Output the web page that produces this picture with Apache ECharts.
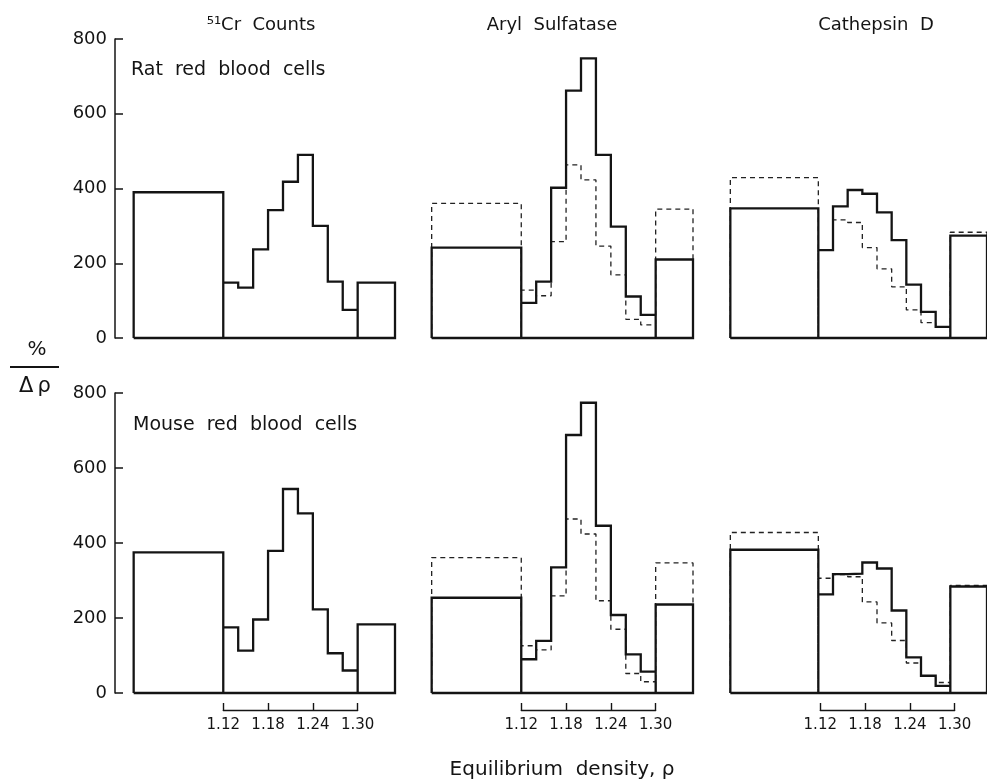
<!DOCTYPE html>
<html>
<head>
<meta charset="utf-8">
<script src="https://cdn.jsdelivr.net/npm/echarts@6/dist/echarts.min.js"></script>
<style>
  html, body { margin: 0; padding: 0; background: #fff; }
  #chart { width: 987px; height: 784px; }
</style>
</head>
<body>
<div id="chart"></div>
<script>
// bin edges (density): one wide box, 9 fractions of 0.02, one box above 1.30
const edges = [1.00, 1.12, 1.14, 1.16, 1.18, 1.20, 1.22, 1.24, 1.26, 1.28, 1.30, 1.35];
const tickLabels = ['1.12', '1.18', '1.24', '1.30'];
const panelTitles = ['\u2075\u00b9Cr  Counts', 'Aryl  Sulfatase', 'Cathepsin  D'];
const rowLabels = ['Rat  red  blood  cells', 'Mouse  red  blood  cells'];

// %/Δρ values
const ratCr = [390, 148, 135, 237, 342, 418, 490, 300, 151, 75, 148];
const ratAryl = [242, 94, 151, 402, 662, 748, 490, 298, 111, 62, 210];
const ratArylDashed = [360, 128, 113, 258, 463, 423, 246, 169, 50, 35, 345];
const ratCath = [347, 235, 352, 396, 386, 336, 262, 143, 70, 30, 274];
const ratCathDashed = [429, 235, 316, 309, 242, 185, 137, 75, 41, 30, 283];

const mouseCr = [375, 175, 113, 196, 379, 544, 479, 223, 106, 60, 183];
const mouseAryl = [254, 90, 139, 335, 688, 774, 446, 208, 103, 57, 236];
const mouseArylDashed = [361, 126, 115, 259, 464, 424, 246, 170, 52, 30, 347];
const mouseCath = [382, 263, 317, 318, 348, 332, 220, 95, 46, 19, 284];
const mouseCathDashed = [428, 306, 316, 310, 243, 187, 140, 80, 46, 28, 287];

const FONT = 'DejaVu Sans';
const INK = '#141414';

// outline of the histogram: closed box, steps, closed box, baseline
function outline(values) {
    const n = values.length;
    const pts = [[edges[0], 0]];
    for (let i = 0; i < n; i++) {
        pts.push([edges[i], values[i]], [edges[i + 1], values[i]]);
        if (i === 0 || i === n - 2) pts.push([edges[i + 1], 0]);
    }
    pts.push([edges[n], 0], [edges[0], 0]);
    return pts;
}

const panelLeft = [115, 413, 712];
const panelWidth = 280;
const xMin = 0.975, xMax = 1.35;
const rowTop = [39, 393];
const rowHeight = [299, 300];
const pxPerUnit = panelWidth / (xMax - xMin);

const grid = [], xAxis = [], yAxis = [], series = [];

const rows = [
    [[ratCr], [ratAryl, ratArylDashed], [ratCath, ratCathDashed]],
    [[mouseCr], [mouseAryl, mouseArylDashed], [mouseCath, mouseCathDashed]]
];

rows.forEach((row, r) => {
    row.forEach((sets, p) => {
        const gi = grid.length;
        grid.push({ left: panelLeft[p], width: panelWidth, top: rowTop[r], height: rowHeight[r] });
        xAxis.push({ gridIndex: gi, type: 'value', min: xMin, max: xMax, show: false });
        yAxis.push({
            gridIndex: gi, type: 'value', min: 0, max: 800, interval: 200,
            show: p === 0,
            axisLine: { show: true, lineStyle: { color: INK, width: 1.5 } },
            axisTick: { show: true, inside: true, length: 8, lineStyle: { color: INK, width: 1.5 } },
            axisLabel: { color: INK, fontSize: 18, fontFamily: FONT, margin: 8 },
            splitLine: { show: false }
        });
        // dashed first so the solid line sits on top
        if (sets[1]) {
            series.push({
                type: 'line', xAxisIndex: gi, yAxisIndex: gi, data: outline(sets[1]),
                showSymbol: false, silent: true, z: 2, clip: false,
                lineStyle: { color: '#222', width: 1.3, type: [5, 4] }
            });
        }
        series.push({
            type: 'line', xAxisIndex: gi, yAxisIndex: gi, data: outline(sets[0]),
            showSymbol: false, silent: true, z: 3, clip: false,
            lineStyle: { color: INK, width: 2.3, join: 'miter' }
        });
    });
});

// density bracket under the bottom row
panelLeft.forEach(left => {
    const gi = grid.length;
    grid.push({
        left: left + (1.12 - xMin) * pxPerUnit, width: 0.18 * pxPerUnit,
        top: 700, height: 10
    });
    xAxis.push({
        gridIndex: gi, type: 'category', data: tickLabels, boundaryGap: false,
        axisLine: { lineStyle: { color: INK, width: 1.4 } },
        axisTick: { inside: true, length: 7, lineStyle: { color: INK, width: 1.4 } },
        axisLabel: { color: INK, fontSize: 15, fontFamily: FONT, margin: 8 }
    });
    yAxis.push({ gridIndex: gi, type: 'value', show: false });
});

function label(text, x, y, size, align) {
    return {
        type: 'text', x: x, y: y, silent: true,
        style: { text: text, fill: INK, fontSize: size, fontFamily: FONT, align: align || 'center', verticalAlign: 'middle' }
    };
}

const graphic = [
    label(panelTitles[0], 261, 25, 18),
    label(panelTitles[1], 552, 25, 18),
    label(panelTitles[2], 876, 25, 18),
    label(rowLabels[0], 131, 70, 19, 'left'),
    label(rowLabels[1], 133, 425, 19, 'left'),
    label('%', 37, 350, 20),
    { type: 'line', silent: true, shape: { x1: 10, y1: 367, x2: 59, y2: 367 }, style: { stroke: INK, lineWidth: 2 } },
    label('\u0394\u2009\u03c1', 35, 387, 21),
    label('Equilibrium  density, \u03c1', 562, 770, 20)
];

const chart = echarts.init(document.getElementById('chart'));
chart.setOption({
    animation: false,
    backgroundColor: '#fff',
    textStyle: { fontFamily: FONT },
    grid: grid,
    xAxis: xAxis,
    yAxis: yAxis,
    series: series,
    graphic: graphic
});
</script>
</body>
</html>
